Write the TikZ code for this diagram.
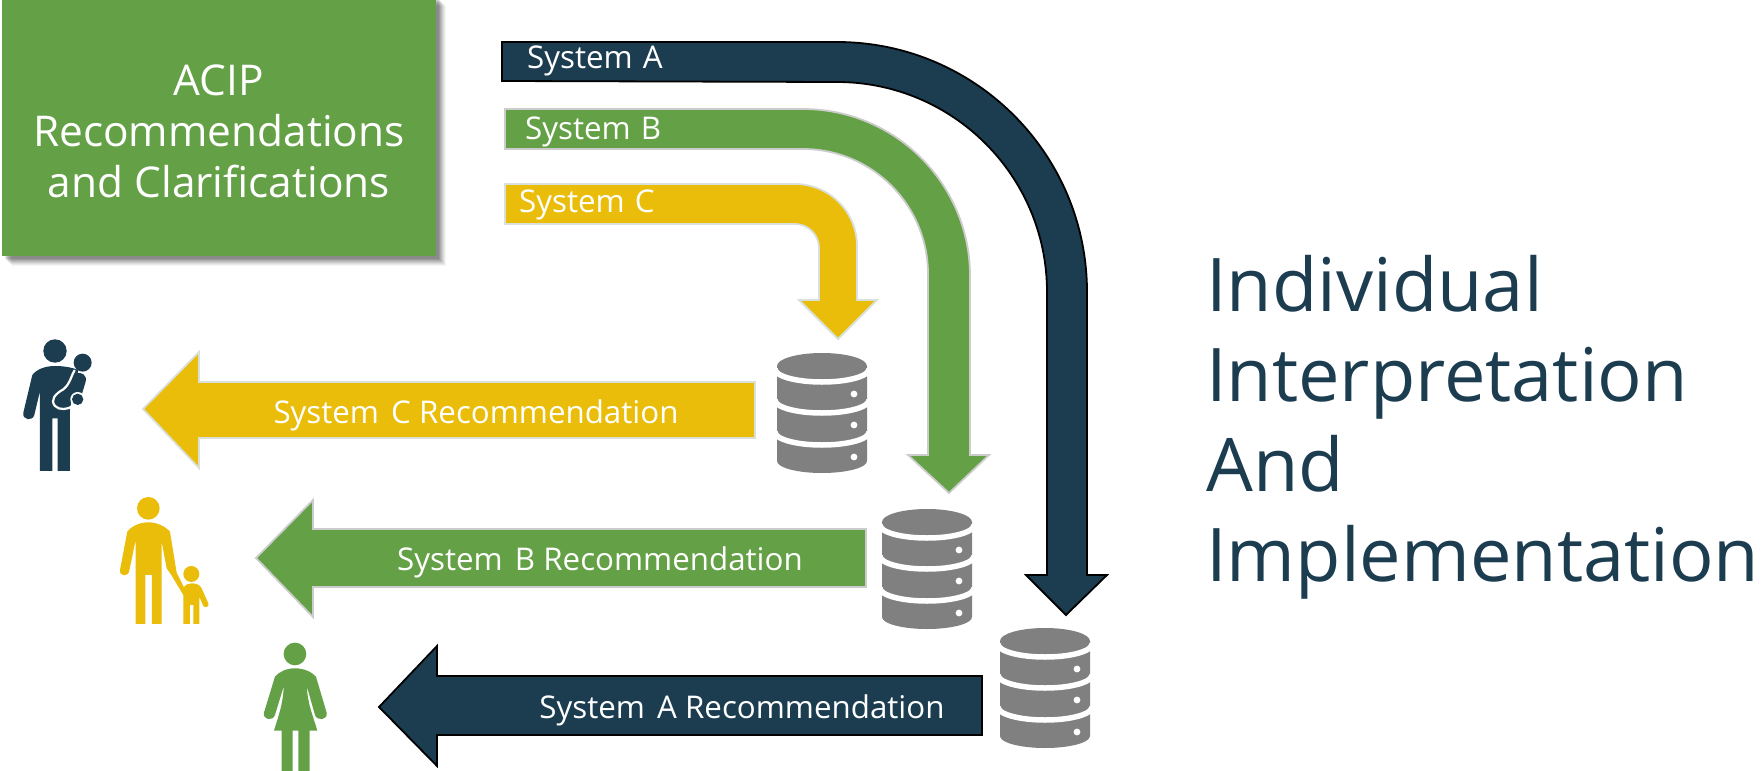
\documentclass[tikz,border=0pt]{standalone}
\usepackage{fontspec}
\setmainfont{Open Sans}
\definecolor{navy}{HTML}{1C3C50}
\definecolor{leaf}{HTML}{64A046}
\definecolor{gold}{HTML}{EABD0A}
\definecolor{dbgray}{HTML}{808080}
\tikzset{
  sysA/.style={draw=black,line width=1.8pt,fill=navy},
  sysB/.style={draw=black!20,line width=1.8pt,fill=leaf},
  sysC/.style={draw=green!20!black!15,line width=1.8pt,fill=gold},
  tag/.style={text=white,font=\fontsize{31.3}{36}\selectfont,inner sep=0pt},
  person/.style={shift={(0,320)},x=0.3333pt,y=-0.3333pt},
}
\newcommand{\dbstack}[3]{% centre x, top y, name
  \begin{scope}[shift={(#1,#2)}]
    \coordinate (#3) at (0,60);
    \fill[dbgray] (-45,13) -- (-45,108) arc[start angle=180,end angle=0,x radius=45,y radius=12]
      -- (45,13) -- cycle;
    \fill[dbgray] (0,13) ellipse[x radius=45,y radius=13];
    \foreach \yy in {16,47,79}
      \draw[white,line width=5.5pt] (-47,\yy) arc[start angle=180,end angle=0,x radius=47,y radius=13];
    \foreach \yy in {41,72,104}
      \fill[white] (32,\yy) circle[radius=3.4];
  \end{scope}
}
\begin{document}
\begin{tikzpicture}[x=1pt,y=-1pt]
\useasboundingbox (0,0) rectangle (1762,771);

% soft shadow of the box
\foreach \off/\op in {10/.04,9/.05,8/.06,7/.07,6/.08,5/.09,4/.1,3/.1}
  \fill[black,opacity=\op] (2+\off,\off-4) rectangle (436+\off,256+\off);
\node[fill=leaf,minimum width=434pt,minimum height=256pt,inner sep=0pt] (acip) at (219,128) {};
\node[align=center,text=white,inner sep=0pt,font=\fontsize{42.4}{51}\selectfont]
  (acipText) at (219,131) {ACIP\\Recommendations\\and Clarifications};

% bent arrows
\path[sysA] (502,42) -- (837,42) arc[start angle=-90,end angle=0,radius=250] -- (1087,575) -- (1107,575)
  -- (1066,615) -- (1026,575) -- (1047,575) -- (1047,292) arc[start angle=0,end angle=-90,radius=210] -- (502,81) -- cycle;
\path[sysB] (505,109) -- (803,109) arc[start angle=-90,end angle=0,radius=167] -- (970,455) -- (989,455)
  -- (949,493) -- (908,455) -- (928,455) -- (928,274) arc[start angle=0,end angle=-90,radius=125] -- (505,149) -- cycle;
\path[sysC] (505,184) -- (795,184) arc[start angle=-90,end angle=0,radius=62] -- (857,300) -- (877,300)
  -- (838,339) -- (799,300) -- (819,300) -- (819,248) arc[start angle=0,end angle=-90,radius=24] -- (505,224) -- cycle;

\node[tag,anchor=west] (labelA) at (527,61) {System\hspace{2pt} A};
\node[tag,anchor=west] (labelB) at (525,132) {System\hspace{2pt} B};
\node[tag,anchor=west] (labelC) at (519,205) {System\hspace{2pt} C};

% straight arrows
\path[sysC] (755,382) -- (199,382) -- (199,352) -- (143,409) -- (199,468) -- (199,438) -- (755,438) -- cycle;
\path[sysB] (866,529) -- (313,529) -- (313,500) -- (256,558) -- (313,617) -- (313,587) -- (866,587) -- cycle;
\path[sysA] (982,676) -- (437,676) -- (437,646) -- (379,707) -- (437,766) -- (437,735) -- (982,735) -- cycle;

\node[tag] (recC) at (476,415) {System\hspace{4pt} C Recommendation};
\node[tag] (recB) at (600,562) {System\hspace{4pt} B Recommendation};
\node[tag] (recA) at (742,710) {System\hspace{4pt} A Recommendation};

\dbstack{822}{353}{dbC}
\dbstack{927}{509}{dbB}
\dbstack{1045}{628}{dbA}

\node[anchor=west,align=left,text=navy,inner sep=0pt,font=\fontsize{74}{90}\selectfont]
  (title) at (1206,427) {Individual\\Interpretation\\And\\Implementation};

% people
\begin{scope}[person]
  \fill[navy] (165,93) circle[radius=35];
  \fill[navy] (248,128) circle[radius=27];
  \fill[navy] (165,138) .. controls (135,138) and (110,148) .. (97,165) -- (70,278)
    .. controls (65,300) and (98,305) .. (103,285) -- (120,213) -- (120,453) -- (157,453) -- (157,295)
    -- (173,295) -- (173,453) -- (210,453) -- (210,265) -- (235,150) .. controls (215,142) and (190,138) .. (165,138) -- cycle;
  \fill[navy] (228,160) .. controls (245,155) and (262,165) .. (257,185) -- (245,225) -- (200,240) -- (205,200) -- cycle;
  \draw[white,line width=2.2pt] (224,150) .. controls (212,170) and (212,190) .. (190,208)
    .. controls (165,222) and (150,240) .. (165,258) .. controls (178,272) and (205,268) .. (218,258);
  \fill[white] (233,238) circle[radius=22];
  \fill[navy] (233,238) circle[radius=17];

  \fill[gold] (445,565) circle[radius=34];
  \fill[gold] (445,607) .. controls (420,607) and (395,618) .. (382,635) -- (360,750)
    .. controls (358,770) and (385,772) .. (388,752) -- (407,660) -- (407,912) -- (436,912) -- (436,765)
    -- (456,765) -- (456,912) -- (485,912) -- (485,665) -- (500,745) -- (512,762) -- (550,825) -- (550,912)
    -- (570,912) -- (570,855) -- (580,855) -- (580,912) -- (598,912) -- (598,830) -- (610,858)
    .. controls (615,865) and (630,860) .. (625,850) -- (605,805) .. controls (600,795) and (590,790) .. (575,790)
    .. controls (565,790) and (555,795) .. (552,802) -- (530,758) -- (510,635)
    .. controls (495,618) and (470,607) .. (445,607) -- cycle;
  \fill[gold] (574,762) circle[radius=24];

  \fill[leaf] (885,1002) circle[radius=34];
  \fill[leaf] (885,1045) .. controls (860,1045) and (838,1055) .. (825,1070) -- (792,1178)
    .. controls (788,1200) and (818,1205) .. (825,1185) -- (851,1100) .. controls (850,1150) and (835,1190) .. (822,1232)
    -- (845,1232) -- (845,1353) -- (878,1353) -- (878,1232) -- (895,1232) -- (895,1353) -- (929,1353) -- (929,1232)
    -- (952,1232) .. controls (940,1190) and (922,1150) .. (921,1100) -- (945,1185)
    .. controls (952,1205) and (985,1200) .. (980,1178) -- (948,1070)
    .. controls (935,1055) and (910,1045) .. (885,1045) -- cycle;
\end{scope}
\end{tikzpicture}
\end{document}
